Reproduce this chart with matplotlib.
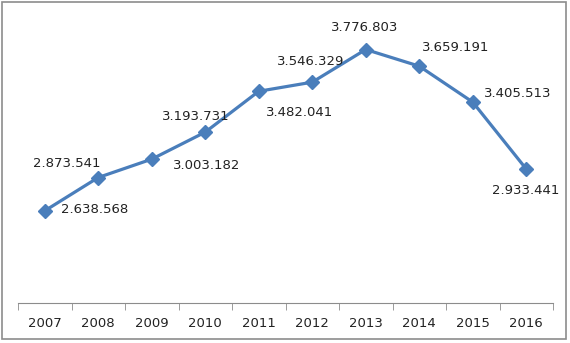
import matplotlib
matplotlib.use("Agg")
import matplotlib.pyplot as plt
from matplotlib.patches import Rectangle
import numpy as np

years = ["2007", "2008", "2009", "2010", "2011", "2012", "2013", "2014", "2015", "2016"]
values = [2638568, 2873541, 3003182, 3193731, 3482041, 3546329, 3776803, 3659191, 3405513, 2933441]
labels = ["2.638.568", "2.873.541", "3.003.182", "3.193.731", "3.482.041",
          "3.546.329", "3.776.803", "3.659.191", "3.405.513", "2.933.441"]

# label offsets in pixels (dx, dy) relative to each marker
offsets = [(50, 1), (-31, 14), (55, -6), (-9, 16), (41, -21),
           (-2, 21), (-1, 22), (36, 19), (45, 9), (-1, -21)]

fig = plt.figure(figsize=(5.7, 3.43), dpi=100)
ax = fig.add_axes([18 / 570, 40 / 343, 535 / 570, 283 / 343])

x = np.arange(len(years))
ax.plot(x, values, "-", color="#4a7ebb", lw=2.3, marker="D", markersize=7,
        markerfacecolor="#4a7ebb", markeredgecolor="#4a7ebb")

for xi, v, lab, (dx, dy) in zip(x, values, labels, offsets):
    ax.annotate(lab, (xi, v), xytext=(dx, dy), textcoords="offset pixels",
                ha="center", va="center", fontsize=9.5, color="#222222")

ax.set_xlim(-0.5, len(years) - 0.5)
ax.set_ylim(1988000, 3985000)

for side in ["left", "right", "top"]:
    ax.spines[side].set_visible(False)
ax.spines["bottom"].set_color("#8c8c8c")
ax.set_yticks([])

ax.set_xticks(x)
ax.set_xticklabels(years, fontsize=9.5, color="#222222")
ax.tick_params(axis="x", which="major", length=0, pad=10)
ax.set_xticks(np.arange(-0.5, len(years)), minor=True)
ax.tick_params(axis="x", which="minor", length=5, color="#8c8c8c")

fig.patches.append(Rectangle((2 / 570, 4 / 343), 564 / 570, 337 / 343,
                             transform=fig.transFigure, fill=False,
                             edgecolor="#8c8c8c", lw=1.2))

fig.savefig("out.png", dpi=100)
